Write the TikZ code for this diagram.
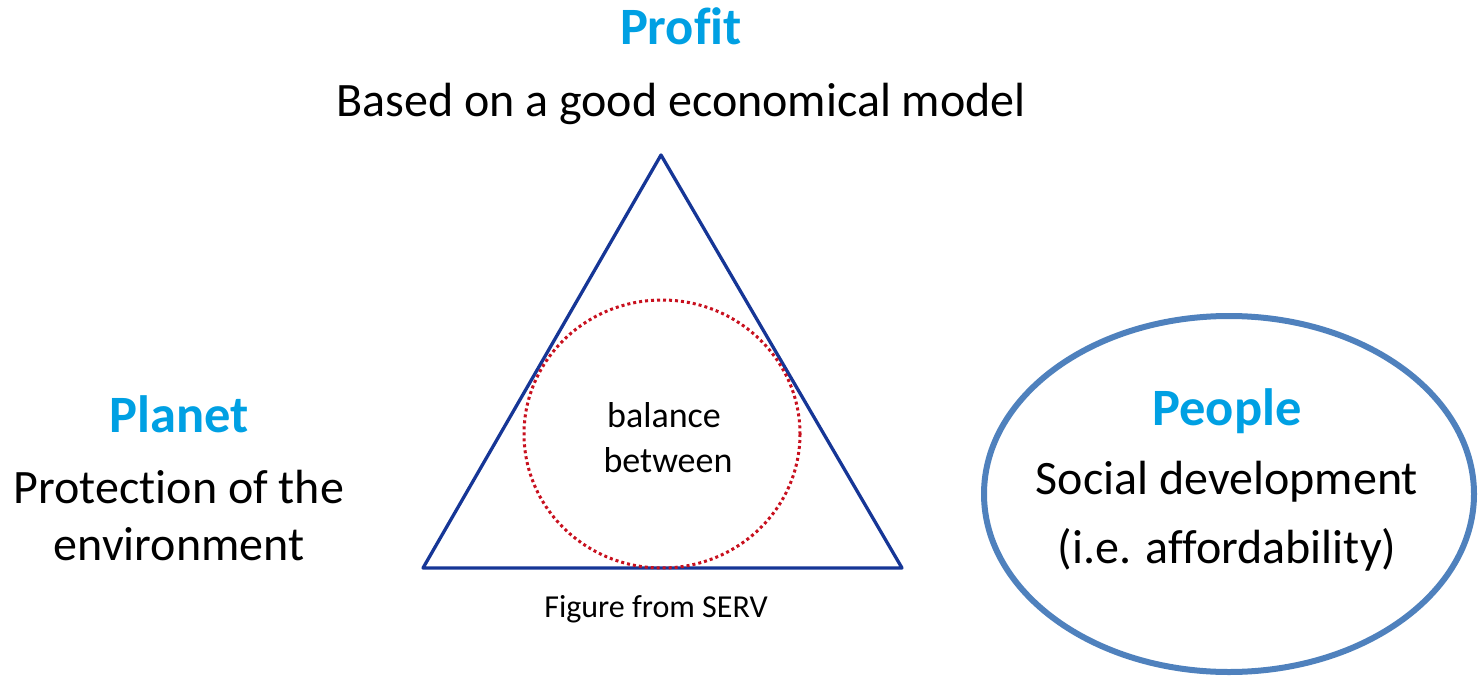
\documentclass[tikz,border=0pt]{standalone}
\usepackage{fontspec}
\setmainfont[Ligatures=NoCommon]{Carlito}
\definecolor{headblue}{RGB}{0,160,227}
\definecolor{triblue}{RGB}{22,54,150}
\definecolor{dotred}{RGB}{200,16,30}
\definecolor{ellblue}{RGB}{79,129,189}
\begin{document}
\begin{tikzpicture}[x=1pt,y=-1pt,
  head/.style={font=\fontsize{52.5}{56}\selectfont\bfseries, text=headblue, anchor=base, inner sep=0pt},
  body/.style={font=\fontsize{48}{52}\selectfont, text=black, anchor=base, inner sep=0pt},
  small/.style={font=\fontsize{36}{40}\selectfont, text=black, anchor=base, inner sep=0pt},
  note/.style={font=\fontsize{32}{36}\selectfont, text=black, anchor=base, inner sep=0pt}]
\useasboundingbox (0,0) rectangle (1483,677);
% triangle
\coordinate (apex) at (661,155);
\coordinate (bl) at (423,568);
\coordinate (br) at (902,568);
\draw[triblue, line width=3.3pt, line join=round] (apex) -- (br) -- (bl) -- cycle;
% dotted circle
\draw[dotred, line width=3pt, dash pattern=on 3pt off 3pt] (662,434) ellipse [x radius=138, y radius=134];
% ellipse
\draw[ellblue, line width=6pt] (1229,494) ellipse [x radius=245, y radius=178];
% texts
\node[head] (profit) at (681,45) {Profit};
\node[body] (based) at (681,116) {Based on a good economical model};
\node[head] (planet) at (179,432) {Planet};
\node[body] (prot) at (179,503) {Protection of the};
\node[body] (env) at (179,560) {environment};
\node[head] (people) at (1227,425) {People};
\node[body] (social) at (1227,494) {Social development};
\node[body] (afford) at (1227,563) {(i.e. affordability)};
\node[small] (balance) at (664,427) {balance};
\node[small] (between) at (668,472) {between};
\node[note] (fig) at (656,617) {Figure from SERV};
\end{tikzpicture}
\end{document}
